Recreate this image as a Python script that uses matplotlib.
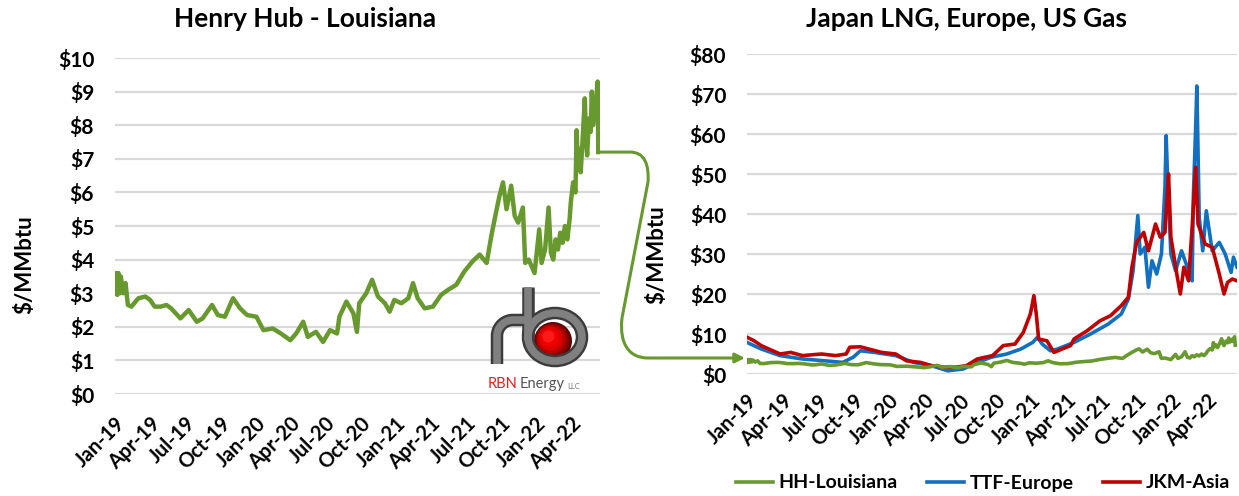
import matplotlib
matplotlib.use("Agg")
import matplotlib.pyplot as plt
import numpy as np
from matplotlib.path import Path
from matplotlib.patches import FancyArrowPatch, Circle, Arc

plt.rcParams['font.family'] = ['Lato', 'DejaVu Sans']
plt.rcParams['font.weight'] = 'bold'

# ---------------- data (x = months since Jan-2019) ----------------
hh_month = [0, 0.1, 0.2, 0.3, 0.4, 0.5, 0.7, 0.9, 1.1, 1.4, 2.0, 2.6, 3.0, 3.4, 3.9, 4.4, 4.8,
            5.6, 6.3, 7.0, 7.5, 8.3, 8.8, 9.4, 10.1, 10.7, 11.3, 12.1, 12.7, 13.5,
            14.2, 15.0, 15.5, 16.1, 16.5, 17.2, 17.8, 18.4, 19.0, 19.2, 19.8, 20.4,
            20.7, 20.9, 21.5, 22.0, 22.5, 23.1, 23.5, 23.9, 24.5, 25.1, 25.5, 25.9,
            26.5, 27.2, 27.9, 28.5, 29.2, 29.9, 30.6, 31.2, 31.8, 32.2, 32.6, 32.9,
            33.2, 33.5, 33.9, 34.2, 34.5, 34.9, 35.1, 35.4, 35.9, 36.3, 36.5, 36.8,
            37.1, 37.3, 37.5, 37.7, 37.9, 38.1, 38.3, 38.5, 38.7, 38.9, 39.0, 39.2,
            39.4, 39.5, 39.6, 39.7, 39.85, 40.0, 40.2, 40.3, 40.4, 40.55, 40.7, 40.8,
            40.9, 41.0, 41.1, 41.2, 41.3, 41.35]
hh_price = [3.0, 3.6, 2.95, 3.6, 3.0, 3.5, 3.0, 3.3, 2.65, 2.6, 2.85, 2.9, 2.8, 2.6, 2.6,
            2.65, 2.55, 2.25, 2.5, 2.15, 2.25, 2.65, 2.35, 2.3, 2.85, 2.55, 2.35, 2.3,
            1.9, 1.95, 1.8, 1.6, 1.8, 2.15, 1.7, 1.85, 1.55, 1.9, 1.8, 2.3, 2.75, 2.4,
            1.85, 2.7, 3.0, 3.4, 2.9, 2.7, 2.45, 2.8, 2.7, 2.85, 3.3, 2.85,
            2.55, 2.6, 2.95, 3.1, 3.25, 3.65, 3.95, 4.15, 3.9, 4.7, 5.4, 5.9,
            6.3, 5.5, 6.2, 5.3, 5.1, 5.55, 3.9, 4.0, 3.6, 4.9, 3.9, 4.3,
            5.55, 4.2, 4.0, 4.6, 4.3, 4.8, 4.5, 5.0, 4.6, 5.2, 5.7, 6.3,
            6.0, 7.85, 6.8, 7.3, 6.6, 7.5, 8.8, 7.6, 7.1, 8.2, 7.8, 9.0,
            8.0, 8.6, 8.15, 8.9, 9.3, 7.2]

ttf_month = [0, 1.2, 2.8, 4.7, 6.6, 8.1, 9.0, 9.6, 10.8, 12.6, 14.1, 15.6, 17.0, 18.3,
             19.5, 20.7, 22.0, 23.2, 24.2, 24.6, 25.0, 25.7, 26.3, 27.7, 29.1, 30.6,
             31.7, 32.3, 32.7, 33.1, 33.3, 33.7, 34.0, 34.3, 34.7, 35.1, 35.4, 35.5,
             35.6, 35.9, 36.3, 36.8, 37.2, 37.7, 37.8, 38.0, 38.1, 38.3, 38.6, 38.9,
             39.4, 40.0, 40.5, 41.0, 41.2, 41.5]
ttf_price = [7.9, 6.25, 4.6, 3.75, 3.3, 2.9, 4.2, 5.8, 5.4, 4.6, 2.9, 2.1, 0.8, 1.25,
             2.9, 4.2, 5.0, 6.25, 7.9, 9.2, 7.5, 5.8, 6.25, 7.9, 10.0, 12.5,
             15.0, 18.75, 25.8, 39.6, 30.0, 31.7, 21.7, 28.3, 25.0, 30.0, 46.7, 59.6,
             50.8, 30.0, 25.8, 30.8, 27.5, 23.3, 44.0, 61.7, 72.0, 39.2, 30.8, 40.8,
             30.8, 32.9, 30.0, 25.4, 29.2, 26.7]

jkm_month = [0, 0.6, 1.2, 2.2, 2.8, 3.7, 4.7, 6.3, 7.5, 8.4, 8.7, 9.6, 10.3, 11.4,
             12.6, 13.5, 14.7, 15.6, 16.8, 17.7, 18.6, 19.5, 20.8, 21.7, 22.7, 23.4,
             24.0, 24.3, 24.5, 24.7, 25.4, 26.0, 27.4, 27.7, 28.8, 29.9, 30.8, 31.7,
             32.3, 32.6, 33.0, 33.6, 34.0, 34.6, 35.0, 35.4, 35.6, 35.7, 35.9, 36.4,
             36.7, 37.0, 37.4, 37.7, 38.0, 38.2, 38.8, 39.4, 40.0, 40.4, 40.7, 41.1, 41.5]
jkm_price = [9.2, 8.3, 7.1, 5.8, 5.0, 5.4, 4.6, 5.0, 4.6, 5.0, 6.7, 6.8, 6.25, 5.4,
             5.0, 3.3, 2.9, 2.1, 1.7, 1.7, 2.1, 3.75, 4.6, 7.1, 7.5, 10.4,
             15.0, 19.6, 15.0, 8.75, 8.3, 5.4, 7.1, 8.75, 10.8, 13.3, 14.6, 17.1,
             19.2, 26.7, 32.9, 35.4, 30.8, 37.5, 34.2, 35.4, 45.0, 50.0, 34.2, 25.0,
             20.0, 26.7, 23.3, 36.7, 51.7, 37.5, 32.5, 31.7, 25.0, 20.0, 22.9, 23.75, 23.3]

tick_months = [0, 3, 6, 9, 12, 15, 18, 21, 24, 27, 30, 33, 36, 39]
tick_labels = ['Jan-19', 'Apr-19', 'Jul-19', 'Oct-19', 'Jan-20', 'Apr-20', 'Jul-20',
               'Oct-20', 'Jan-21', 'Apr-21', 'Jul-21', 'Oct-21', 'Jan-22', 'Apr-22']
left_yticks = list(range(0, 11))
right_yticks = list(range(0, 81, 10))

GREEN = '#68992e'
BLUE = '#1170c0'
RED = '#c00000'
GRID = '#d9d9d9'

W, H = 1239, 496
fig = plt.figure(figsize=(W / 100, H / 100), dpi=100)


def fx(px):
    return px / W


def fy(py):
    return 1 - py / H


def style_axes(ax, yticks, ylim, xpad):
    ax.set_ylim(*ylim)
    ax.set_xlim(0, 41.5)
    ax.set_yticks(yticks)
    ax.set_yticklabels(['$%d' % v for v in yticks], fontsize=15, fontweight='bold')
    ax.set_xticks(tick_months)
    ax.set_xticklabels(tick_labels, rotation=45, ha='right', rotation_mode='anchor',
                       fontsize=14.5, fontweight='bold')
    ax.tick_params(axis='both', length=0)
    ax.tick_params(axis='y', pad=15)
    ax.tick_params(axis='x', pad=xpad)
    for s in ax.spines.values():
        s.set_visible(False)
    ax.yaxis.grid(True, color=GRID, linewidth=1.6)
    ax.set_axisbelow(True)


# ---------------- left panel ----------------
ax1 = fig.add_axes([fx(115), fy(394), fx(600) - fx(115), fy(58) - fy(394)])
style_axes(ax1, left_yticks, (0, 10), 14)
ax1.plot(hh_month, hh_price, color=GREEN, lw=3.2, solid_joinstyle='round')
fig.text(fx(305), fy(19), 'Henry Hub - Louisiana', ha='center', va='center',
         fontsize=19, fontweight='bold')
fig.text(fx(25), fy(265), '$/MMbtu', rotation=90, ha='center', va='center',
         fontsize=16, fontweight='bold')

# ---------------- right panel ----------------
ax2 = fig.add_axes([fx(747), fy(374), fx(1237) - fx(747), fy(54) - fy(374)])
style_axes(ax2, right_yticks, (0, 80), 12)
l_hh, = ax2.plot(hh_month, hh_price, color=GREEN, lw=2.6, zorder=3)
l_ttf, = ax2.plot(ttf_month, ttf_price, color=BLUE, lw=2.6, zorder=2)
l_jkm, = ax2.plot(jkm_month, jkm_price, color=RED, lw=2.6, zorder=2.5)
fig.text(fx(966), fy(19), 'Japan LNG, Europe, US Gas', ha='center', va='center',
         fontsize=19, fontweight='bold')
fig.text(fx(657), fy(255), '$/MMbtu', rotation=90, ha='center', va='center',
         fontsize=16, fontweight='bold')

fig.legend([l_hh, l_ttf, l_jkm], ['HH-Louisiana', 'TTF-Europe', 'JKM-Asia'],
           loc='center', bbox_to_anchor=(fx(983), fy(483)), ncol=3, frameon=False,
           prop={'size': 14, 'weight': 'bold'}, handlelength=1.9, handletextpad=0.3,
           columnspacing=1.5)

# ---------------- connector arrow ----------------
start = fig.transFigure.inverted().transform(
    ax1.transData.transform((hh_month[-1], hh_price[-1])))
sx, sy = start[0] * W, (1 - start[1]) * H
pts = [(sx, sy), (630, sy), (645, sy), (649, 165), (648, 182), (622, 318),
       (619, 345), (630, 358), (648, 358), (745, 358)]
codes = [Path.MOVETO, Path.LINETO, Path.CURVE4, Path.CURVE4, Path.CURVE4, Path.LINETO,
         Path.CURVE4, Path.CURVE4, Path.CURVE4, Path.LINETO]
path = Path([(fx(x), fy(y)) for x, y in pts], codes)
arrow = FancyArrowPatch(path=path, arrowstyle='-|>', mutation_scale=14,
                        color=GREEN, lw=2.2, transform=fig.transFigure)
fig.add_artist(arrow)

# ---------------- RBN logo ----------------
axl = fig.add_axes([fx(478), fy(395), fx(592) - fx(478), fy(283) - fy(395)])
axl.set_xlim(478, 592)
axl.set_ylim(395, 283)
axl.axis('off')
for r, c in [(19, '#5a0000'), (17, '#8a0000'), (14.5, '#b80000'),
             (12, '#dd0000'), (9, '#f00000'), (6, '#ff1a1a')]:
    off = (19 - r) * 0.35
    axl.add_patch(Circle((553 - off, 341 - off), r, color=c, lw=0, zorder=1))
pipe_dark, pipe_light = '#3c3c3c', '#808080'
for lw, col, z in [(9.0, pipe_dark, 2), (5.5, pipe_light, 3)]:
    axl.add_patch(Arc((555, 337), 54, 48, theta1=-180, theta2=180, color=col, lw=lw,
                      zorder=z))
    axl.plot([528, 528], [287, 340], color=col, lw=lw, solid_capstyle='butt', zorder=z)
    t = np.linspace(np.pi, np.pi / 2, 30)
    xs = list(513 + 16 * np.cos(t)) + [528]
    ys = list(336 - 16 * np.sin(t)) + [320]
    axl.plot([497, 497] + xs, [364, 336] + ys, color=col, lw=lw,
             solid_capstyle='butt', zorder=z)
axl.text(488, 384, 'RBN', color='#e02020', fontsize=10.5, fontweight='normal',
         ha='left', va='center')
axl.text(520, 384, 'Energy', color='#555555', fontsize=10.5, fontweight='normal',
         ha='left', va='center')
axl.text(567, 386, 'LLC', color='#777777', fontsize=5.5, fontweight='normal',
         ha='left', va='center')

fig.savefig('out.png', dpi=100)
